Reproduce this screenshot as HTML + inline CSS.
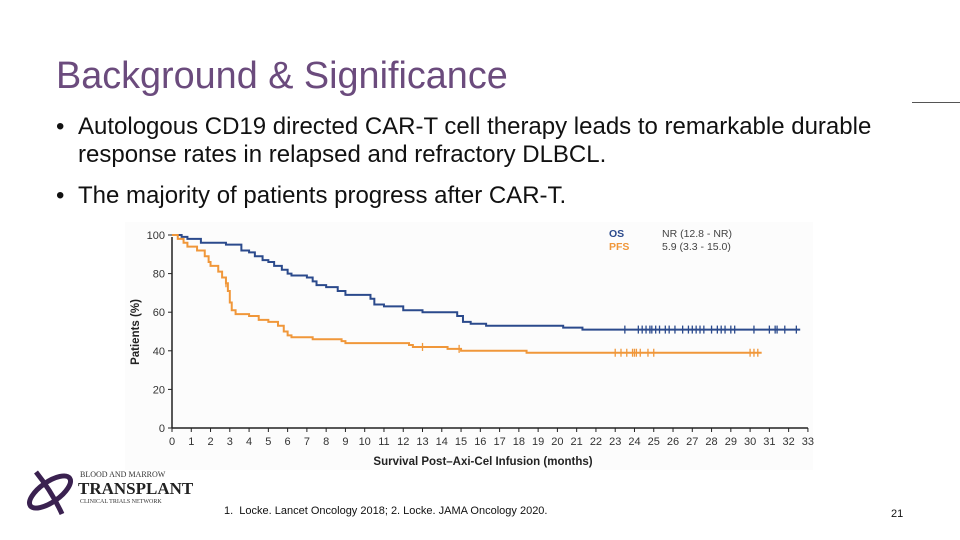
<!DOCTYPE html>
<html><head><meta charset="utf-8"><style>
body{margin:0;width:960px;height:540px;background:#fff;position:relative;overflow:hidden;font-family:"Liberation Sans",sans-serif}
.t{position:absolute;left:56px;top:55px;font-size:37.8px;color:#6b4b7d}
.b{position:absolute;font-size:24px;color:#111;line-height:28px;white-space:nowrap;padding-left:22px}
.b .d{position:absolute;left:0;top:0}
</style></head><body>
<div class="t">Background &amp; Significance</div>
<div style="position:absolute;left:912px;top:102px;width:48px;height:1px;background:#555"></div>
<div class="b" style="left:56px;top:113px"><span class="d">•</span>Autologous CD19 directed CAR-T cell therapy leads to remarkable durable<br>response rates in relapsed and refractory DLBCL.</div>
<div class="b" style="left:56px;top:182px"><span class="d">•</span>The majority of patients progress after CAR-T.</div>
<svg id="km" width="960" height="540" style="position:absolute;left:0;top:0">
<rect x="125" y="222" width="688" height="248" fill="#fcfcfc"/>
</svg>
<div style="position:absolute;left:224px;top:505px;font-size:11px;color:#111">1.&nbsp; Locke. Lancet Oncology 2018; 2. Locke. JAMA Oncology 2020.</div>
<div style="position:absolute;left:891px;top:508px;font-size:11px;color:#111">21</div>
<div style="position:absolute;left:22px;top:462px;width:190px;height:58px">
<svg width="60" height="58" style="position:absolute;left:0;top:0"><ellipse cx="28" cy="30" rx="24" ry="10" transform="rotate(-35 28 30)" fill="none" stroke="#3a2150" stroke-width="5"/><path d="M14 10 Q30 30 40 52" stroke="#3a2150" stroke-width="5" fill="none"/></svg>
<div style="position:absolute;left:58px;top:8px;font-family:'Liberation Serif',serif;font-size:8px;color:#333">BLOOD AND MARROW</div>
<div style="position:absolute;left:56px;top:17px;font-family:'Liberation Serif',serif;font-size:17px;font-weight:bold;color:#222">TRANSPLANT</div>
<div style="position:absolute;left:58px;top:37px;font-family:'Liberation Serif',serif;font-size:6px;color:#333">CLINICAL TRIALS NETWORK</div>
</div>
<script>
const xTicks=[0,1,2,3,4,5,6,7,8,9,10,11,12,13,14,15,16,17,18,19,20,21,22,23,24,25,26,27,28,29,30,31,32,33];
const yTicks=[0,20,40,60,80,100];
const osTimes=[0,0.5,0.8,1.5,2.8,3.6,4.0,4.3,4.7,5.0,5.3,5.7,6.0,6.2,7.0,7.3,7.5,8.0,8.6,9.0,10.3,10.5,11.0,12.0,13.0,14.8,15.1,15.5,16.3,20.3,21.3,32.6];
const osValues=[100,99,98,96,95,92,91,89,87,86,84,82,80,79,78,76,74,73,71,69,67,64,63,61,60,58,55,54,53,52,51,51];
const pfsTimes=[0,0.3,0.6,0.8,1.3,1.7,1.9,2.0,2.4,2.6,2.8,2.9,3.0,3.1,3.3,4.0,4.5,5.0,5.5,5.8,6.0,6.2,7.3,8.8,9.0,12.3,12.5,14.3,15.0,18.4,30.6];
const pfsValues=[100,98,96,94,92,89,86,84,81,78,75,71,65,61,59,58,56,55,53,50,48,47,46,45,44,43,42,41,40,39,39];
const osCensor=[23.5,24.2,24.4,24.6,24.8,24.9,25.1,25.3,25.6,25.8,26.1,26.5,26.8,27.0,27.2,27.4,27.6,28.0,28.3,28.5,28.7,29.0,29.2,30.2,31.0,31.3,31.4,31.8,32.4];
const pfsCensor=[2.8,13.0,14.9,23.0,23.3,23.6,23.9,24.0,24.1,24.3,24.7,25.0,30.0,30.2,30.4];
const X=t=>172+t*19.27, Y=v=>428-v*1.93;
const svg=document.getElementById('km'),NS='http://www.w3.org/2000/svg';
function mk(tag,a,txt){const e=document.createElementNS(NS,tag);for(const k in a)e.setAttribute(k,a[k]);if(txt!==undefined)e.textContent=txt;svg.appendChild(e);return e;}
let e=mk('line',{x1:X(0),y1:Y(0),x2:X(33),y2:Y(0),stroke:'#222','stroke-width':1.5});


e=mk('line',{x1:X(0),y1:Y(0),x2:X(0),y2:Y(100)+2,stroke:'#222','stroke-width':1.5});


xTicks.forEach(t=>{mk('line',{x1:X(t),y1:Y(0),x2:X(t),y2:Y(0)+4,stroke:'#222'});
e=mk('text',{x:X(t),y:Y(0)+17,'font-size':11,'text-anchor':'middle',fill:'#333','font-family':'Liberation Sans'},t);

});
yTicks.forEach(v=>{mk('line',{x1:X(0)-4,y1:Y(v),x2:X(0),y2:Y(v),stroke:'#222'});
e=mk('text',{x:X(0)-7,y:Y(v)+4,'font-size':11,'text-anchor':'end',fill:'#333','font-family':'Liberation Sans'},v);

});
e=mk('text',{x:483,y:465,'font-size':11.5,'font-weight':'bold','text-anchor':'middle',fill:'#222','font-family':'Liberation Sans'},'Survival Post–Axi-Cel Infusion (months)');


e=mk('text',{x:0,y:0,'font-size':11.5,'font-weight':'bold','text-anchor':'middle',fill:'#222','font-family':'Liberation Sans',transform:'translate(139 332) rotate(-90)'},'Patients (%)');


function step(ts,vs){let d='M'+X(ts[0])+' '+Y(vs[0]);for(let i=1;i<ts.length;i++){d+=' H'+X(ts[i])+' V'+Y(vs[i]);}return d;}
function series(ts,vs,cs,col,name){
 e=mk('path',{d:step(ts,vs),fill:'none',stroke:col,'stroke-width':2});
 
 
 cs.forEach(c=>{let v=vs[0];for(let i=0;i<ts.length;i++)if(ts[i]<=c)v=vs[i];
  e=mk('line',{x1:X(c),x2:X(c),y1:Y(v)-4,y2:Y(v)+4,stroke:col,'stroke-width':1.3});
  
  });
}
series(osTimes,osValues,osCensor,'#2b4a8c','os');
series(pfsTimes,pfsValues,pfsCensor,'#f0973a','pfs');
e=mk('text',{x:609,y:237,'font-size':10.5,'font-weight':'bold',fill:'#2b4a8c','font-family':'Liberation Sans'},'OS');


e=mk('text',{x:609,y:250,'font-size':10.5,'font-weight':'bold',fill:'#f0973a','font-family':'Liberation Sans'},'PFS');


e=mk('text',{x:662,y:237,'font-size':10.5,fill:'#444','font-family':'Liberation Sans'},'NR (12.8 - NR)');


e=mk('text',{x:662,y:250,'font-size':10.5,fill:'#444','font-family':'Liberation Sans'},'5.9 (3.3 - 15.0)');


</script>
</body></html>
